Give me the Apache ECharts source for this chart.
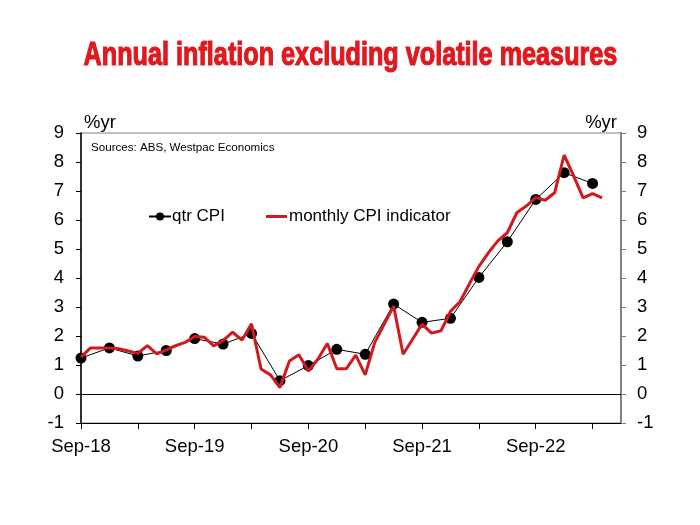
<!DOCTYPE html>
<html><head><meta charset="utf-8">
<script src="https://cdn.jsdelivr.net/npm/echarts@6/dist/echarts.min.js"></script>
<style>html,body{margin:0;padding:0;background:#fff}#c{width:700px;height:525px}</style>
</head><body><div id="c"></div>
<script>
var titleText = 'Annual inflation excluding volatile measures';
var sourceText = 'Sources: ABS, Westpac Economics';
var unitText = '%yr';
var categories = ['Sep-18','Oct-18','Nov-18','Dec-18','Jan-19','Feb-19','Mar-19','Apr-19','May-19','Jun-19','Jul-19','Aug-19',
  'Sep-19','Oct-19','Nov-19','Dec-19','Jan-20','Feb-20','Mar-20','Apr-20','May-20','Jun-20','Jul-20','Aug-20',
  'Sep-20','Oct-20','Nov-20','Dec-20','Jan-21','Feb-21','Mar-21','Apr-21','May-21','Jun-21','Jul-21','Aug-21',
  'Sep-21','Oct-21','Nov-21','Dec-21','Jan-22','Feb-22','Mar-22','Apr-22','May-22','Jun-22','Jul-22','Aug-22',
  'Sep-22','Oct-22','Nov-22','Dec-22','Jan-23','Feb-23','Mar-23','Apr-23','May-23','Jun-23'];
var yTicks = [-1,0,1,2,3,4,5,6,7,8,9];
var monthlyCPI = [1.27,1.59,1.59,1.59,1.56,1.48,1.40,1.67,1.38,1.52,1.67,1.78,
  1.98,1.96,1.66,1.84,2.13,1.86,2.42,0.86,0.66,0.22,1.14,1.35,
  0.79,1.20,1.74,0.87,0.87,1.34,0.66,1.77,2.40,3.03,1.37,1.89,
  2.41,2.10,2.18,2.85,3.18,3.80,4.40,4.87,5.28,5.56,6.25,6.48,
  6.77,6.68,6.94,8.24,7.52,6.76,6.91,6.76];
var qtrDates = ['Sep-18','Dec-18','Mar-19','Jun-19','Sep-19','Dec-19','Mar-20','Jun-20','Sep-20','Dec-20',
  'Mar-21','Jun-21','Sep-21','Dec-21','Mar-22','Jun-22','Sep-22','Dec-22','Mar-23'];
var qtrCPI = [1.24,1.59,1.31,1.50,1.91,1.72,2.09,0.46,0.98,1.54,1.37,3.10,2.47,2.61,4.02,5.25,6.71,7.63,7.26];

var qtrSeries = categories.map(function(){return null;});
qtrDates.forEach(function(d,i){ qtrSeries[categories.indexOf(d)] = qtrCPI[i]; });
var monthlySeries = categories.map(function(c,i){ return i < monthlyCPI.length ? monthlyCPI[i] : null; });

var FONT = 'Liberation Sans, Arial, sans-serif';
var RED = '#d11a1e';
var chart = echarts.init(document.getElementById('c'), null, {renderer:'canvas'});
var yAxisBase = {
  type:'value', min:yTicks[0], max:yTicks[yTicks.length-1], interval:1,
  splitLine:{show:false},
  axisTick:{show:true, length:5, lineStyle:{color:'#000', width:1}},
  axisLabel:{fontFamily:FONT, fontSize:18.5, color:'#000', margin:17}
};
chart.setOption({
  animation:false,
  backgroundColor:'#fff',
  graphic:[{
    type:'text', x:350.5, y:56, scaleX:0.764, z:10,
    style:{text:titleText, fontFamily:FONT, fontWeight:'bold', fontSize:33, fill:'#e0191f',
      stroke:'#e0191f', lineWidth:1.2, textAlign:'center', textVerticalAlign:'middle'}
  },{
    type:'text', x:91, y:148,
    style:{text:sourceText, fontFamily:FONT, fontSize:11.6, fill:'#000', textVerticalAlign:'middle'}
  },{
    type:'text', x:84, y:123,
    style:{text:unitText, fontFamily:FONT, fontSize:18.5, fill:'#000', textVerticalAlign:'middle'}
  },{
    type:'text', x:617, y:123,
    style:{text:unitText, fontFamily:FONT, fontSize:18.5, fill:'#000', textAlign:'right', textVerticalAlign:'middle'}
  }],
  legend:[{
    left:143, top:203, itemWidth:22, itemHeight:10, itemGap:10,
    textStyle:{fontFamily:FONT, fontSize:17, color:'#000', padding:[0,0,0,-4]},
    data:[{name:'qtr CPI'}]
  },{
    left:261, top:203, itemWidth:21, itemHeight:3, itemGap:10,
    textStyle:{fontFamily:FONT, fontSize:17, color:'#000', padding:[0,0,0,-3]},
    data:[{name:'monthly CPI indicator', icon:'rect'}]
  }],
  grid:{left:81, right:79, top:133, bottom:102, show:true, borderColor:'#808080', borderWidth:1, containLabel:false},
  xAxis:{
    type:'category', data:categories, boundaryGap:false,
    axisLine:{onZero:false, lineStyle:{color:'#000', width:1}},
    axisTick:{show:true, length:6, interval:function(i){return i%6===0;}, lineStyle:{color:'#000'}},
    axisLabel:{fontFamily:FONT, fontSize:18.5, color:'#000', margin:14, interval:function(i){return i%12===0;}}
  },
  yAxis:[
    Object.assign({}, yAxisBase, {position:'left',
      axisLine:{show:true, lineStyle:{color:'#000', width:1.5}}}),
    Object.assign({}, yAxisBase, {position:'right',
      axisLabel:{fontFamily:FONT, fontSize:18.5, color:'#000', margin:16},
      axisLine:{show:true, lineStyle:{color:'#808080', width:2}},
      axisTick:{show:true, length:5, lineStyle:{color:'#808080', width:1}}})
  ],
  series:[
    {name:'qtr CPI', type:'line', data:qtrSeries, connectNulls:true, yAxisIndex:0,
     symbol:'circle', symbolSize:11, showAllSymbol:true,
     itemStyle:{color:'#000'}, lineStyle:{color:'#000', width:1}, z:2,
     markLine:{silent:true, symbol:'none', label:{show:false}, lineStyle:{color:'#000', width:1, type:'solid'},
       data:[{yAxis:0}]}},
    {name:'monthly CPI indicator', type:'line', data:monthlySeries, connectNulls:false, yAxisIndex:0,
     symbol:'none', itemStyle:{color:RED}, lineStyle:{color:RED, width:3}, z:3}
  ]
});
</script></body></html>
